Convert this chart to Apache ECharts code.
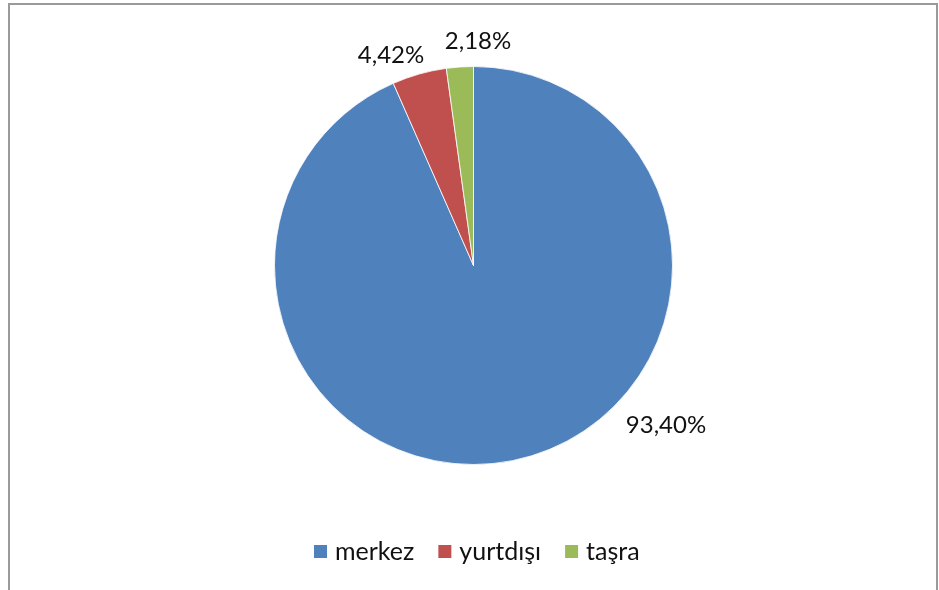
<!DOCTYPE html>
<html>
<head>
<meta charset="utf-8">
<script src="https://cdn.jsdelivr.net/npm/echarts@6/dist/echarts.min.js"></script>
<style>
    html, body { margin: 0; padding: 0; background: #fff; }
    #container { width: 939px; height: 590px; }
</style>
</head>
<body>
<div id="container"></div>
<script>
    // slice data, clockwise from 12 o'clock
    var categories = ['merkez', 'yurtdışı', 'taşra'];
    var values = [93.40, 4.42, 2.18];
    var labels = ['93,40%', '4,42%', '2,18%'];
    var colors = ['#4F81BD', '#C0504D', '#9BBB59'];

    // where Excel dropped each percentage label (best fit)
    var labelSpots = [[666, 425], [391, 55], [478, 41]];

    var pieData = categories.map(function (name, i) {
        return {name: name, value: values[i], itemStyle: {color: colors[i]}};
    });

    var chart = echarts.init(document.getElementById('container'));
    chart.setOption({
        animation: false,
        textStyle: {fontFamily: 'Lato'},
        graphic: [{
            type: 'rect',
            shape: {x: 9, y: 4, width: 928, height: 620},
            style: {fill: 'none', stroke: '#9a9a9a', lineWidth: 2},
            silent: true
        }],
        legend: {
            data: categories,
            bottom: 21,
            left: 307,
            padding: 5,
            icon: 'rect',
            itemWidth: 15,
            itemHeight: 15,
            itemGap: 22,
            textStyle: {fontFamily: 'Lato', fontSize: 25, color: '#111', padding: [0, 0, 0, 2]}
        },
        series: [{
            type: 'pie',
            center: [473.5, 265.5],
            radius: 199,
            startAngle: 90,
            clockwise: true,
            data: pieData,
            itemStyle: {borderColor: '#ffffff', borderWidth: 0.8},
            label: {
                show: true,
                position: 'outside',
                fontFamily: 'Lato',
                fontSize: 24,
                color: '#111',
                formatter: function (p) { return labels[p.dataIndex]; }
            },
            labelLine: {show: false},
            labelLayout: function (p) {
                var s = labelSpots[p.dataIndex];
                return {x: s[0], y: s[1], align: 'center', verticalAlign: 'middle'};
            },
            emphasis: {disabled: true}
        }]
    });
</script>
</body>
</html>
